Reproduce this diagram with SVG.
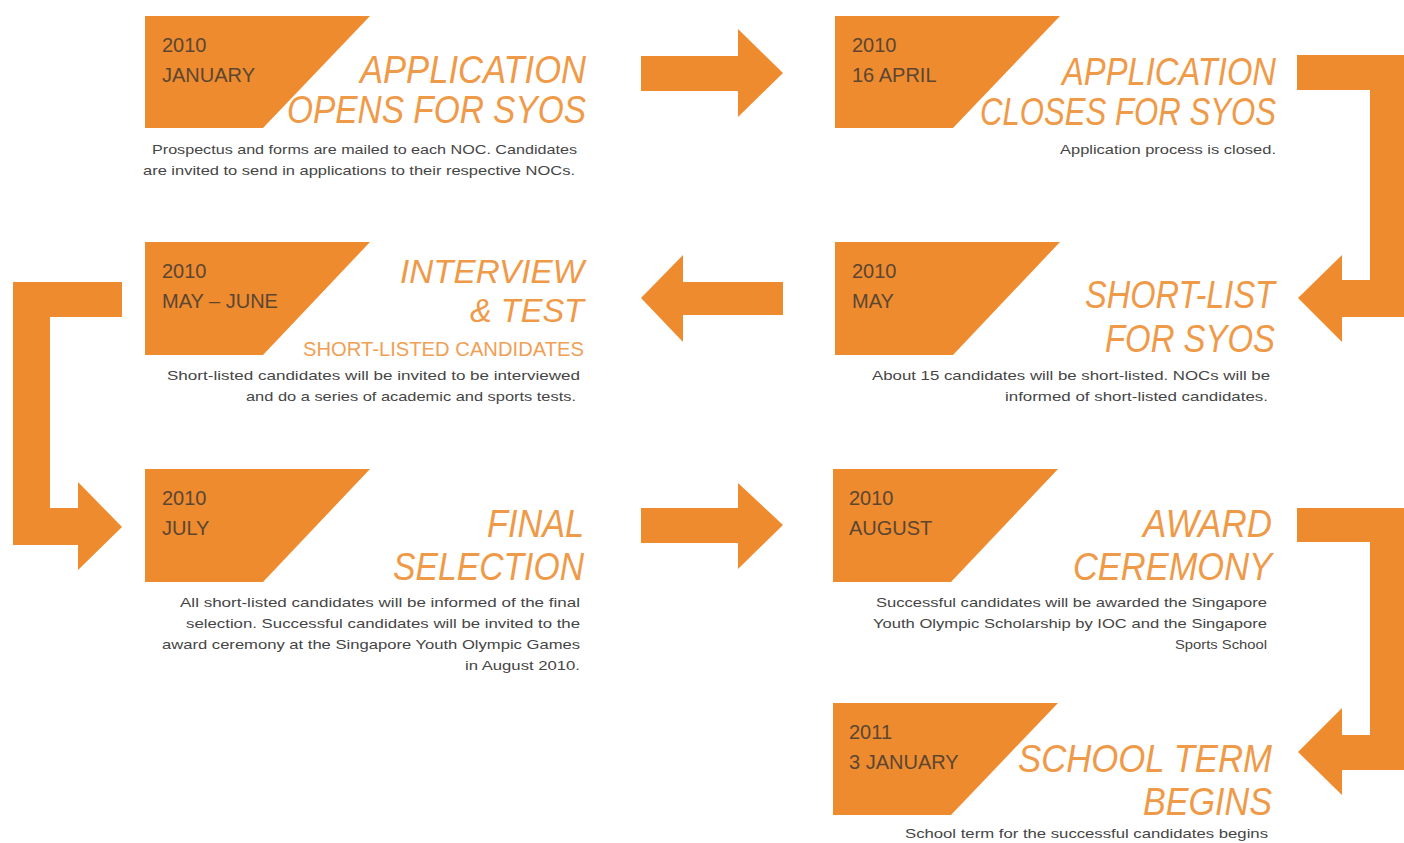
<svg xmlns="http://www.w3.org/2000/svg" width="1404" height="843" viewBox="0 0 1404 843">
  <style>
    .tab { fill: #ef8b2f; }
    .arrow { fill: #ef8b2f; }
    .date { font-family: "Liberation Sans", Arial, sans-serif; font-size: 20px; fill: #5b4632; }
    .title { font-family: "Liberation Sans", Arial, sans-serif; font-size: 38px; font-style: italic; fill: #ef9a48; text-anchor: end; }
    .title-sm { font-size: 34px; }
    .sub { font-family: "Liberation Sans", Arial, sans-serif; font-size: 20px; fill: #f0a055; text-anchor: end; }
    .desc { font-family: "Liberation Sans", Arial, sans-serif; font-size: 13px; fill: #454545; text-anchor: end; }
  </style>
  <rect width="1404" height="843" fill="#ffffff"/>

  <!-- flow arrows between the steps -->
  <g id="connectors">
    <path class="arrow" d="M641,56 H738 V29 L783,73 L738,117 V91 H641 Z"/>
    <path class="arrow" d="M1297,55 H1404 V317 H1342 V342 L1298,298 L1342,255 V280 H1370 V90 H1297 Z"/>
    <path class="arrow" d="M783,282 H683 V255 L641,298 L683,342 V315 H783 Z"/>
    <path class="arrow" d="M122,282 H13 V545 H78 V570 L122,527 L78,482 V508 H50 V317 H122 Z"/>
    <path class="arrow" d="M641,508 H738 V483 L783,525 L738,569 V543 H641 Z"/>
    <path class="arrow" d="M1297,508 H1404 V770 H1342 V795 L1298,752 L1342,708 V735 H1370 V542 H1297 Z"/>
  </g>

  <g id="step-application-opens">
    <polygon class="tab" points="145,16 370,16 263,128 145,128"/>
    <text class="date" x="162" y="52">2010</text>
    <text class="date" x="162" y="82">JANUARY</text>
    <text class="title" x="586" y="83" textLength="226" lengthAdjust="spacingAndGlyphs">APPLICATION</text>
    <text class="title" x="586" y="123" textLength="299" lengthAdjust="spacingAndGlyphs">OPENS FOR SYOS</text>
    <text class="desc" x="577" y="154" textLength="425" lengthAdjust="spacingAndGlyphs">Prospectus and forms are mailed to each NOC. Candidates</text>
    <text class="desc" x="575" y="175" textLength="432" lengthAdjust="spacingAndGlyphs">are invited to send in applications to their respective NOCs.</text>
  </g>

  <g id="step-application-closes">
    <polygon class="tab" points="835,16 1060,16 953,128 835,128"/>
    <text class="date" x="852" y="52">2010</text>
    <text class="date" x="852" y="82">16 APRIL</text>
    <text class="title" x="1276" y="85" textLength="214" lengthAdjust="spacingAndGlyphs">APPLICATION</text>
    <text class="title" x="1276" y="125" textLength="296" lengthAdjust="spacingAndGlyphs">CLOSES FOR SYOS</text>
    <text class="desc" x="1276" y="154" textLength="216" lengthAdjust="spacingAndGlyphs">Application process is closed.</text>
  </g>

  <g id="step-short-list">
    <polygon class="tab" points="835,242 1060,242 953,355 835,355"/>
    <text class="date" x="852" y="278">2010</text>
    <text class="date" x="852" y="308">MAY</text>
    <text class="title" x="1275" y="308" textLength="190" lengthAdjust="spacingAndGlyphs">SHORT-LIST</text>
    <text class="title" x="1275" y="352" textLength="170" lengthAdjust="spacingAndGlyphs">FOR SYOS</text>
    <text class="desc" x="1270" y="380" textLength="398" lengthAdjust="spacingAndGlyphs">About 15 candidates will be short-listed.  NOCs will be</text>
    <text class="desc" x="1268" y="401" textLength="263" lengthAdjust="spacingAndGlyphs">informed of short-listed candidates.</text>
  </g>

  <g id="step-interview-test">
    <polygon class="tab" points="145,242 370,242 263,355 145,355"/>
    <text class="date" x="162" y="278">2010</text>
    <text class="date" x="162" y="308">MAY – JUNE</text>
    <text class="title title-sm" x="584" y="283" textLength="184" lengthAdjust="spacingAndGlyphs">INTERVIEW</text>
    <text class="title title-sm" x="584" y="322" textLength="114" lengthAdjust="spacingAndGlyphs">&amp; TEST</text>
    <text class="sub" x="584" y="356" textLength="281" lengthAdjust="spacingAndGlyphs">SHORT-LISTED CANDIDATES</text>
    <text class="desc" x="580" y="380" textLength="413" lengthAdjust="spacingAndGlyphs">Short-listed candidates will be invited to be interviewed</text>
    <text class="desc" x="576" y="401" textLength="330" lengthAdjust="spacingAndGlyphs">and do a series of academic and sports tests.</text>
  </g>

  <g id="step-final-selection">
    <polygon class="tab" points="145,469 370,469 263,582 145,582"/>
    <text class="date" x="162" y="505">2010</text>
    <text class="date" x="162" y="535">JULY</text>
    <text class="title" x="584" y="537" textLength="97" lengthAdjust="spacingAndGlyphs">FINAL</text>
    <text class="title" x="584" y="580" textLength="191" lengthAdjust="spacingAndGlyphs">SELECTION</text>
    <text class="desc" x="580" y="607" textLength="400" lengthAdjust="spacingAndGlyphs">All short-listed candidates will be informed of the final</text>
    <text class="desc" x="580" y="628" textLength="394" lengthAdjust="spacingAndGlyphs">selection.  Successful candidates will be invited to the</text>
    <text class="desc" x="580" y="649" textLength="418" lengthAdjust="spacingAndGlyphs">award ceremony at the Singapore Youth Olympic Games</text>
    <text class="desc" x="580" y="670" textLength="115" lengthAdjust="spacingAndGlyphs">in August 2010.</text>
  </g>

  <g id="step-award-ceremony">
    <polygon class="tab" points="833,469 1058,469 951,582 833,582"/>
    <text class="date" x="849" y="505">2010</text>
    <text class="date" x="849" y="535">AUGUST</text>
    <text class="title" x="1272" y="537" textLength="129" lengthAdjust="spacingAndGlyphs">AWARD</text>
    <text class="title" x="1272" y="580" textLength="199" lengthAdjust="spacingAndGlyphs">CEREMONY</text>
    <text class="desc" x="1267" y="607" textLength="391" lengthAdjust="spacingAndGlyphs">Successful candidates will be awarded the Singapore</text>
    <text class="desc" x="1267" y="628" textLength="394" lengthAdjust="spacingAndGlyphs">Youth Olympic Scholarship by IOC and the Singapore</text>
    <text class="desc" x="1267" y="649" textLength="92" lengthAdjust="spacingAndGlyphs">Sports School</text>
  </g>

  <g id="step-school-term">
    <polygon class="tab" points="833,703 1058,703 951,815 833,815"/>
    <text class="date" x="849" y="739">2011</text>
    <text class="date" x="849" y="769">3 JANUARY</text>
    <text class="title" x="1272" y="772" textLength="254" lengthAdjust="spacingAndGlyphs">SCHOOL TERM</text>
    <text class="title" x="1272" y="815" textLength="129" lengthAdjust="spacingAndGlyphs">BEGINS</text>
    <text class="desc" x="1268" y="838" textLength="363" lengthAdjust="spacingAndGlyphs">School term for the successful candidates begins</text>
  </g>
</svg>
